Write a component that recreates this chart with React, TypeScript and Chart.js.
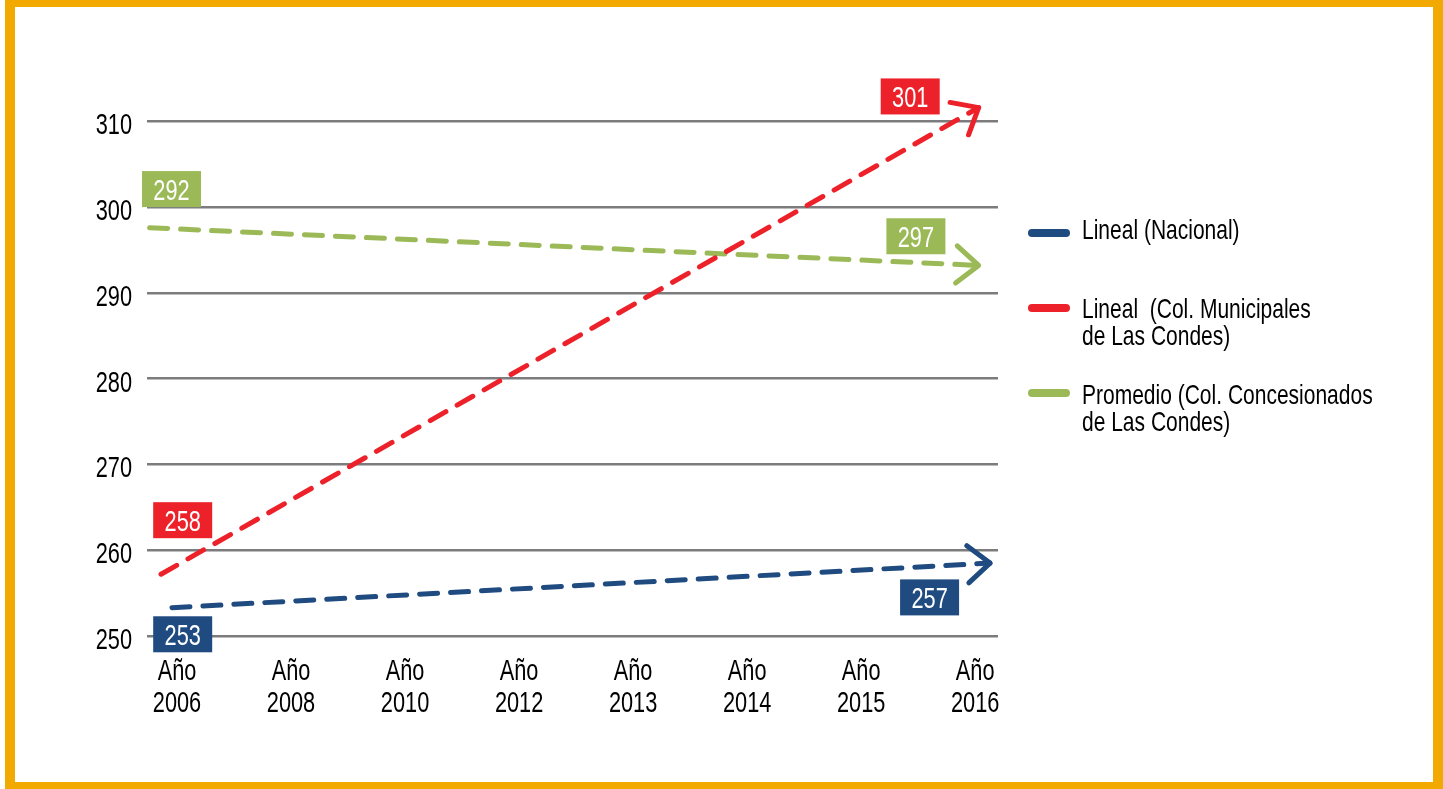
import React, { useEffect, useRef } from "react";
import { Chart, registerables } from "chart.js";

Chart.register(...registerables);

// ---- data ----
const years = ["2006", "2008", "2010", "2012", "2013", "2014", "2015", "2016"];
const yTicks = [250, 260, 270, 280, 290, 300, 310];

const nacionalX = [-0.044, 7.13];
const nacionalY = [253.3, 258.5];
const municipalX = [-0.14, 7.03];
const municipalY = [257.2, 311.6];
const concesionX = [-0.24, 7.03];
const concesionY = [297.6, 293.2];

const seriesNames = [
  ["Lineal (Nacional)"],
  ["Lineal  (Col. Municipales", "de Las Condes)"],
  ["Promedio (Col. Concesionados", "de Las Condes)"],
];
const labelValues = ["253", "257", "258", "301", "292", "297"];

// ---- styles ----
const BLUE = "#1f4b80";
const RED = "#ed2129";
const GREEN = "#9bba57";
const ORANGE = "#f2a900";
const FONT = "'Liberation Sans', Arial, sans-serif";
const SQUEEZE = 0.75;
const colors = [BLUE, RED, GREEN];

// label anchors (category index, value) for each label box
const labelAnchors = [
  { x: 0.05, y: 250.2, c: BLUE },
  { x: 6.6, y: 254.5, c: BLUE },
  { x: 0.05, y: 263.5, c: RED },
  { x: 6.43, y: 312.9, c: RED },
  { x: -0.048, y: 302.1, c: GREEN },
  { x: 6.48, y: 296.6, c: GREEN },
];

const pairs = (xs: number[], ys: number[]) => xs.map((x, i) => ({ x, y: ys[i] }));

function narrowText(ctx: any, text: string, x: number, y: number, align: string, color: string) {
  ctx.save();
  ctx.translate(x, y);
  ctx.scale(SQUEEZE, 1);
  ctx.font = `29px ${FONT}`;
  ctx.fillStyle = color;
  ctx.textAlign = align;
  ctx.textBaseline = "alphabetic";
  ctx.fillText(text, 0, 0);
  ctx.restore();
}

const overlayPlugin = {
  id: "overlay",
  afterDraw(chart: any) {
    const ctx = chart.ctx;
    const xs = chart.scales.x;
    const ys = chart.scales.y;
    const area = chart.chartArea;
    // y tick labels
    yTicks.forEach((v) => {
      const py = ys.getPixelForValue(v);
      narrowText(ctx, String(v), area.left - 15, py + 13, "right", "#000");
    });
    // x tick labels
    years.forEach((yr, i) => {
      const px = xs.getPixelForValue(i);
      narrowText(ctx, "Año", px, area.bottom + 44, "center", "#000");
      narrowText(ctx, yr, px, area.bottom + 76, "center", "#000");
    });
  },
  afterDatasetsDraw(chart: any) {
    const ctx = chart.ctx;
    const xs = chart.scales.x;
    const ys = chart.scales.y;
    ctx.save();
    // arrowheads
    chart.data.datasets.forEach((ds: any, di: number) => {
      const meta = chart.getDatasetMeta(di);
      const pts = meta.data;
      const a = pts[pts.length - 2];
      const b = pts[pts.length - 1];
      const ang = Math.atan2(b.y - a.y, b.x - a.x);
      const len = 29;
      const spread = (40 * Math.PI) / 180;
      ctx.strokeStyle = ds.borderColor;
      ctx.lineWidth = 5;
      ctx.lineCap = "round";
      ctx.lineJoin = "round";
      ctx.setLineDash([]);
      ctx.beginPath();
      ctx.moveTo(b.x - len * Math.cos(ang - spread), b.y - len * Math.sin(ang - spread));
      ctx.lineTo(b.x, b.y);
      ctx.lineTo(b.x - len * Math.cos(ang + spread), b.y - len * Math.sin(ang + spread));
      ctx.stroke();
    });
    ctx.restore();
    // label boxes
    labelAnchors.forEach((l, i) => {
      const px = xs.getPixelForValue(l.x);
      const py = ys.getPixelForValue(l.y);
      const w = 59;
      const h = 36;
      ctx.fillStyle = l.c;
      ctx.fillRect(px - w / 2, py - h / 2, w, h);
      narrowText(ctx, labelValues[i], px, py + 10.5, "center", "#fff");
    });
  },
};

export default function App() {
  const ref = useRef<HTMLCanvasElement>(null);

  useEffect(() => {
    document.body.style.margin = "0";
    const canvas = ref.current!;
    const chart = new Chart(canvas, {
      type: "line",
      data: {
        datasets: [
          { data: pairs(nacionalX, nacionalY), borderColor: BLUE },
          { data: pairs(municipalX, municipalY), borderColor: RED },
          { data: pairs(concesionX, concesionY), borderColor: GREEN },
        ].map((d) => ({
          ...d,
          borderWidth: 5,
          borderDash: [18, 13],
          borderCapStyle: "round" as const,
          pointRadius: 0,
          fill: false,
          tension: 0,
          clip: false as any,
        })),
      },
      options: {
        responsive: false,
        animation: false,
        devicePixelRatio: 1,
        layout: { padding: { left: 47, right: 445, top: 87, bottom: 73 } },
        plugins: { legend: { display: false }, tooltip: { enabled: false } },
        scales: {
          x: {
            type: "linear",
            min: -0.263,
            max: 7.2,
            grid: { display: false },
            border: { display: false },
            afterBuildTicks: (s: any) => {
              s.ticks = years.map((_, i) => ({ value: i }));
            },
            afterFit: (s: any) => {
              s.height = 80;
            },
            ticks: { display: false },
          },
          y: {
            type: "linear",
            min: 250,
            max: 314,
            grid: { color: "#7c7c7f", lineWidth: 2.5, drawTicks: false },
            border: { display: false },
            afterBuildTicks: (s: any) => {
              s.ticks = yTicks.map((v) => ({ value: v }));
            },
            afterFit: (s: any) => {
              s.width = 100;
            },
            ticks: { display: false },
          },
        },
      },
      plugins: [overlayPlugin],
    });
    return () => chart.destroy();
  }, []);

  const legendTops = [216, 295, 381];
  const markerYs = [233, 308, 393];

  return (
    <div style={{ position: "absolute", left: 0, top: 0, width: 1443, height: 789, background: "#fff", overflow: "hidden" }}>
      <canvas ref={ref} width={1443} height={789} style={{ position: "absolute", left: 0, top: 0, width: 1443, height: 789 }} />
      <div
        style={{
          position: "absolute",
          left: 5,
          top: 0,
          width: 1438,
          height: 789,
          boxSizing: "border-box",
          borderStyle: "solid",
          borderColor: ORANGE,
          borderWidth: "7px 10px 7px 10px",
          pointerEvents: "none",
        }}
      />
      {seriesNames.map((lines, i) => (
        <React.Fragment key={i}>
          <div
            style={{
              position: "absolute",
              left: 1028,
              top: markerYs[i] - 4,
              width: 42,
              height: 8,
              borderRadius: 4,
              background: colors[i],
            }}
          />
          <div
            style={{
              position: "absolute",
              left: 1082,
              top: legendTops[i],
              fontFamily: FONT,
              fontSize: 28,
              lineHeight: "27px",
              color: "#000",
              whiteSpace: "pre",
              transform: `scaleX(${SQUEEZE})`,
              transformOrigin: "0 0",
            }}
          >
            {lines.map((t, j) => (
              <div key={j}>{t}</div>
            ))}
          </div>
        </React.Fragment>
      ))}
    </div>
  );
}
